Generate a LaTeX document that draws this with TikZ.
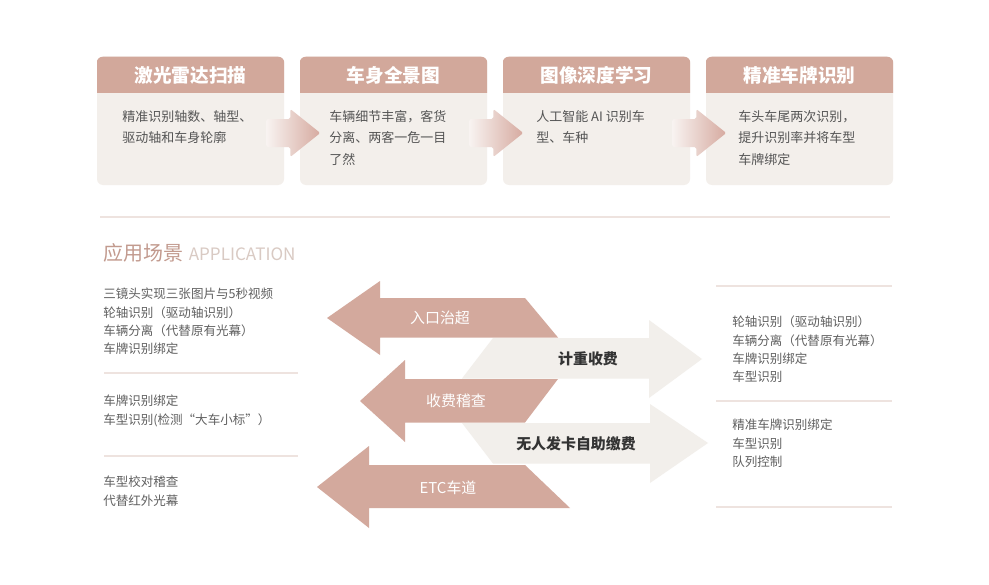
\documentclass[tikz,border=0pt]{standalone}
\usepackage{fontspec}
\setmainfont{Noto Sans CJK SC}
\usetikzlibrary{calc}
\definecolor{hdr}{HTML}{D2A89B}
\definecolor{bodyc}{HTML}{F3EFEB}
\definecolor{pinkA}{HTML}{D3A99D}
\definecolor{lightA}{HTML}{F2EFEB}
\definecolor{sepc}{HTML}{EEE3DF}
\definecolor{txt}{HTML}{555555}
\definecolor{coltxt}{HTML}{606060}
\definecolor{darktxt}{HTML}{333333}
\definecolor{apptitle}{HTML}{C29A8E}
\definecolor{appsub}{HTML}{D9CAC3}
\definecolor{gradL}{HTML}{F8F3F1}
\definecolor{gradR}{HTML}{D6AAA0}
\begin{document}
\begin{tikzpicture}[x=0.75pt,y=-0.75pt,
  box/.style={fill=bodyc, rounded corners=4.5pt, minimum width=140.25pt, minimum height=96pt, inner sep=0pt, draw=none},
  hdrtext/.style={text=white, font=\fontsize{14pt}{16pt}\selectfont\bfseries, inner sep=0pt},
  bodytext/.style={text=txt, font=\fontsize{9.75pt}{16.1pt}\selectfont, align=left, anchor=base west, inner sep=0pt},
  coltext/.style={text=coltxt, font=\fontsize{9.4pt}{13.8pt}\selectfont, align=left, anchor=base west, inner sep=0pt},
  pinklabel/.style={text=white, font=\fontsize{11.2pt}{13pt}\selectfont, inner sep=0pt},
  lightlabel/.style={text=darktxt, font=\fontsize{11.2pt}{13pt}\selectfont\bfseries, inner sep=0pt},
  sepline/.style={draw=sepc, line width=1.1pt},
  pinkarrow/.style={fill=pinkA},
  lightarrow/.style={fill=lightA},
  smallarrow/.style={left color=gradL, right color=gradR, rounded corners=1.2pt}
]
\useasboundingbox (0,0) rectangle (989,585);
\fill[white] (0,0) rectangle (989,585);

% ---- top boxes
\foreach \i/\x in {1/97,2/300,3/503,4/706}{
  \node[box] (box\i) at (\x+93.5,121) {};
  \begin{scope}
    \clip (\x,57) rectangle (\x+187,93);
    \fill[hdr, rounded corners=4.5pt] (box\i.north west) rectangle (box\i.south east);
  \end{scope}
}
\node[hdrtext] (h1) at (190.5,75.5) {激光雷达扫描};
\node[hdrtext] (h2) at (393.5,75.5) {车身全景图};
\node[hdrtext] (h3) at (596.5,75.5) {图像深度学习};
\node[hdrtext] (h4) at (799.5,75.5) {精准车牌识别};

% (base anchor = baseline of the last line)
\node[bodytext] (t1) at (122,142.5) {精准识别轴数、轴型、\\驱动轴和车身轮廓};
\node[bodytext] (t2) at (329,164) {车辆细节丰富，客货\\分离、两客一危一目\\了然};
\node[bodytext] (t3) at (536,142.5) {人工智能 AI 识别车\\型、车种};
\node[bodytext] (t4) at (738,164) {车头车尾两次识别，\\提升识别率并将车型\\车牌绑定};

% ---- small gradient arrows between boxes
\foreach \i in {1,2,3}{
  \coordinate (a\i) at ($(box\i.east)+(0,12)$);
  \shade[smallarrow] ($(a\i)+(-18,-14)$) -- ($(a\i)+(6,-14)$) -- ($(a\i)+(6,-24)$)
     -- ($(a\i)+(36,0)$) -- ($(a\i)+(6,24)$) -- ($(a\i)+(6,14)$) -- ($(a\i)+(-18,14)$) -- cycle;
}

% ---- separator
\draw[sepline] (100,217) -- (890,217);

% ---- application title
\node[anchor=base west, inner sep=0pt, text=apptitle, font=\fontsize{15pt}{17pt}\selectfont] (apt) at (103,260.5) {应用场景};
\node[anchor=base west, inner sep=0pt, text=appsub, font=\fontsize{12.8pt}{15pt}\selectfont] (aps) at ($(apt.base east)+(5,0)$) {APPLICATION};

% ---- left column
\node[coltext] (l1) at (103,353.9) {三镜头实现三张图片与5秒视频\\轮轴识别（驱动轴识别）\\车辆分离（代替原有光幕）\\车牌识别绑定};
\draw[sepline] (104,373) -- (298,373);
\node[coltext] (l2) at (103,424.1) {车牌识别绑定\\车型识别(检测“大车小标”）};
\draw[sepline] (104,456) -- (298,456);
\node[coltext] (l3) at (103,505.1) {车型校对稽查\\代替红外光幕};

% ---- right column
\draw[sepline] (716,286) -- (892,286);
\node[coltext] (r1) at (732,381.9) {轮轴识别（驱动轴识别）\\车辆分离（代替原有光幕）\\车牌识别绑定\\车型识别};
\draw[sepline] (716,401) -- (892,401);
\node[coltext] (r2) at (732,466.5) {精准车牌识别绑定\\车型识别\\队列控制};
\draw[sepline] (716,507) -- (892,507);

% ---- big arrows
\fill[pinkarrow] (327,318) -- (380,281) -- (380,298) -- (525,298) -- (558,337.5) -- (380,337.5) -- (380,355) -- cycle;
\fill[lightarrow] (493,338) -- (649,338) -- (649,320) -- (702,359) -- (649,398) -- (649,378.5) -- (462,378.5) -- cycle;
\fill[pinkarrow] (360,401) -- (405,360) -- (405,379) -- (558,379) -- (525,422.5) -- (405,422.5) -- (405,442) -- cycle;
\fill[lightarrow] (462,423) -- (650,423) -- (650,404) -- (708,443) -- (650,483) -- (650,463.5) -- (493,463.5) -- cycle;
\fill[pinkarrow] (317,487) -- (369,446) -- (369,465) -- (525,465) -- (570,508) -- (369,508) -- (369,528) -- cycle;

\node[pinklabel] (p1) at (440,318) {入口治超};
\node[lightlabel] (g1) at (588,359) {计重收费};
\node[pinklabel] (p2) at (456,401) {收费稽查};
\node[lightlabel] (g2) at (576,444) {无人发卡自助缴费};
\node[pinklabel] (p3) at (448,488) {ETC车道};
\end{tikzpicture}
\end{document}
